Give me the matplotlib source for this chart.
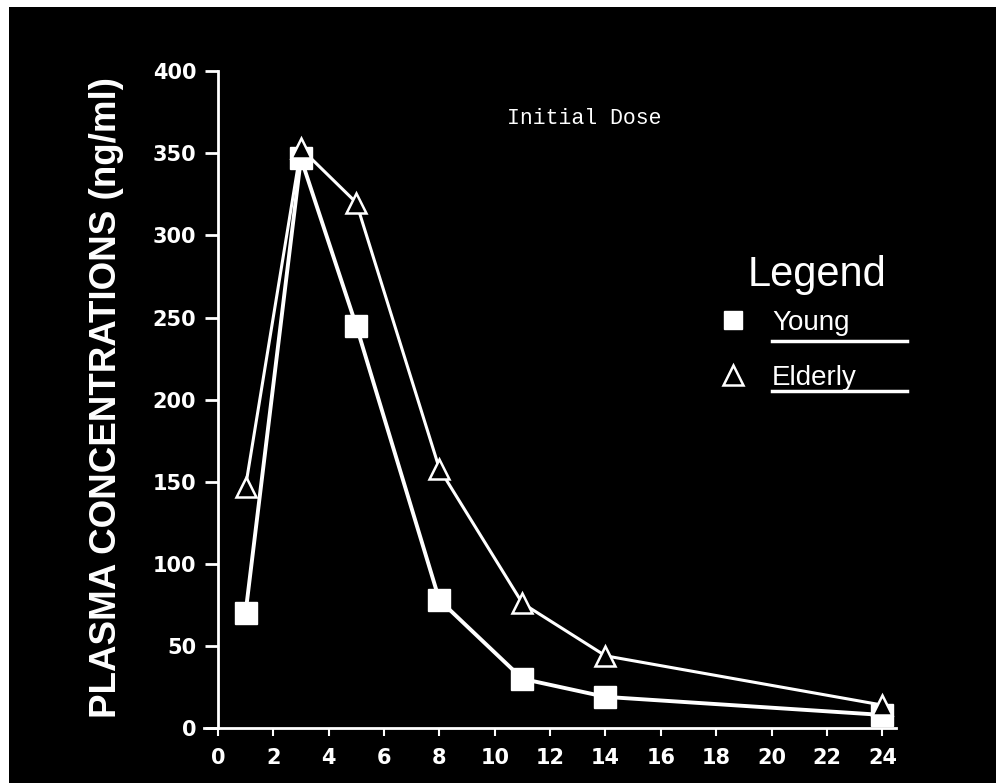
import matplotlib
matplotlib.use('Agg')
import matplotlib.pyplot as plt
from matplotlib.patches import Rectangle
from matplotlib.lines import Line2D

# time after dose (hours) and plasma concentrations (ng/ml)
hours = [1, 3, 5, 8, 11, 14, 24]
young = [70, 347, 245, 78, 30, 19, 8]
elderly = [147, 353, 320, 158, 76, 44, 14]

x_ticks = list(range(0, 25, 2))
y_ticks = list(range(0, 401, 50))

fig = plt.figure(figsize=(9.97, 7.83), dpi=100, facecolor='white')
# black panel with a thin white margin at left/top
fig.patches.append(Rectangle((9/997, 0), 987/997, 776/783, transform=fig.transFigure,
                             facecolor='black', edgecolor='none', zorder=-10))

ax = fig.add_axes([204/997, 50/783, 695/997, 665/783])
ax.set_facecolor('black')
ax.set_xlim(-0.5, 24.6)
ax.set_ylim(-3, 402)

for s in ['top', 'right']:
    ax.spines[s].set_visible(False)
ax.spines['left'].set_position(('data', 0))
ax.spines['bottom'].set_position(('data', 0))
ax.spines['left'].set_bounds(0, 400)
ax.spines['bottom'].set_bounds(-0.5, 24.5)
for s in ['left', 'bottom']:
    ax.spines[s].set_color('white')
    ax.spines[s].set_linewidth(2)

ax.set_xticks(x_ticks)
ax.set_yticks(y_ticks)
ax.tick_params(axis='y', direction='out', length=9.5, width=2, color='white',
               labelcolor='white', labelsize=15, pad=6)
ax.tick_params(axis='x', direction='out', length=6, width=1.5, color='white',
               labelcolor='white', labelsize=15, pad=8)
for lab in ax.get_xticklabels() + ax.get_yticklabels():
    lab.set_fontweight('bold')

ax.plot(hours, young, color='white', lw=2.8, marker='s', markersize=16,
        markerfacecolor='white', markeredgecolor='white', clip_on=False, zorder=3)
ax.plot(hours, elderly, color='white', lw=2.2, marker='^', markersize=15,
        markerfacecolor='black', markeredgecolor='white', markeredgewidth=1.8,
        clip_on=False, zorder=4)

fig.text(107/997, 1 - 397/783, 'PLASMA CONCENTRATIONS (ng/ml)', rotation=90,
         ha='center', va='center', color='white', fontsize=26.5, fontweight='bold',
         family=['Liberation Sans', 'DejaVu Sans'])

fig.text(584/997, 1 - 118/783, 'Initial Dose', ha='center', va='center',
         color='white', fontsize=15.5, family=['Liberation Mono', 'DejaVu Sans Mono'])

# legend
fig.text(748/997, 1 - 275/783, 'Legend', ha='left', va='center', color='white',
         fontsize=30, family=['Liberation Sans', 'DejaVu Sans'])
handles = [Line2D([], [], ls='none', marker='s', markersize=13, color='white'),
           Line2D([], [], ls='none', marker='^', markersize=14, markerfacecolor='black',
                  markeredgecolor='white', markeredgewidth=1.8)]
leg = fig.legend(handles, ['Young', 'Elderly'], frameon=False,
                 loc='upper left', bbox_to_anchor=(722/997, 1 - 310/783),
                 prop={'family': ['Liberation Sans', 'DejaVu Sans'], 'size': 20},
                 labelcolor='white', handlelength=0.8, handletextpad=1.0,
                 labelspacing=1.05, borderpad=0, borderaxespad=0)

# underlines under legend labels
for yy in [341, 391]:
    fig.add_artist(Line2D([772/997, 907/997], [1 - yy/783, 1 - yy/783],
                          color='white', lw=2.5, transform=fig.transFigure))

fig.savefig('out.png', dpi=100, facecolor=fig.get_facecolor())
